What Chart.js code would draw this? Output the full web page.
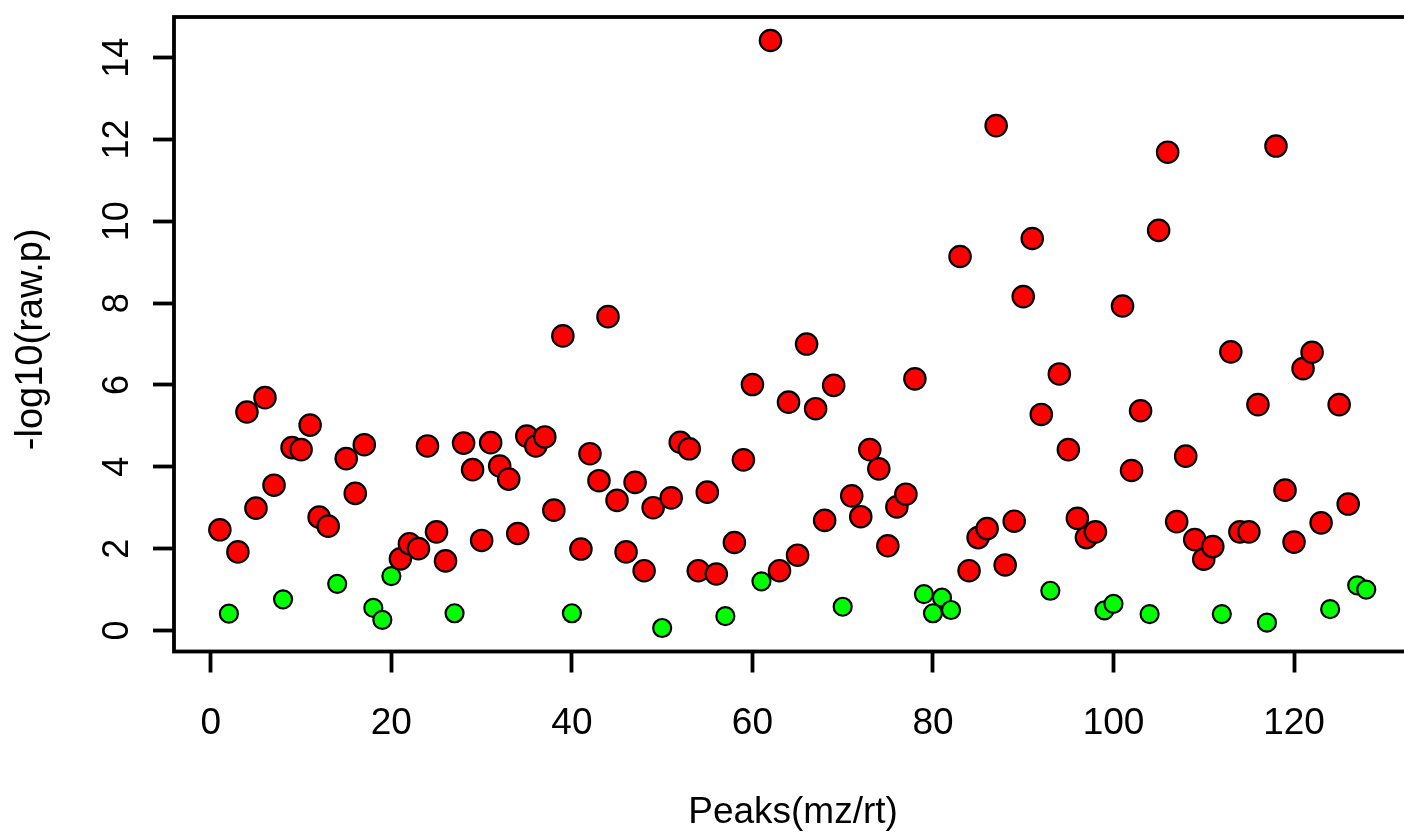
<!DOCTYPE html>
<html>
<head>
<meta charset="utf-8">
<script src="https://cdn.jsdelivr.net/npm/chart.js@4.4.1/dist/chart.umd.min.js"></script>
<style>
  html, body { margin: 0; padding: 0; background: #fff; overflow: hidden; }
  #wrap { position: absolute; left: 0; top: 0; width: 1404px; height: 832px; overflow: hidden; }
  canvas { display: block; }
</style>
</head>
<body>
<div id="wrap"><canvas id="chart" width="1425" height="832"></canvas></div>
<script>
// === Data ===
const pValues = [
  2.46, 0.41, 1.92, 5.34, 2.99, 5.69, 3.55, 0.76, 4.47, 4.42,
  5.02, 2.77, 2.55, 1.14, 4.20, 3.35, 4.54, 0.55, 0.26, 1.33,
  1.75, 2.12, 2.00, 4.51, 2.41, 1.70, 0.42, 4.58, 3.93, 2.20,
  4.59, 4.02, 3.70, 2.37, 4.75, 4.51, 4.73, 2.94, 7.20, 0.42,
  1.99, 4.32, 3.66, 7.67, 3.18, 1.92, 3.62, 1.46, 3.00, 0.06,
  3.24, 4.60, 4.44, 1.46, 3.38, 1.38, 0.35, 2.15, 4.17, 6.01,
  1.20, 14.42, 1.46, 5.58, 1.84, 7.00, 5.42, 2.69, 5.99, 0.58,
  3.29, 2.78, 4.42, 3.95, 2.07, 3.02, 3.33, 6.15, 0.89, 0.42,
  0.80, 0.50, 9.14, 1.46, 2.27, 2.49, 12.34, 1.60, 2.67, 8.16,
  9.58, 5.28, 0.97, 6.27, 4.42, 2.74, 2.27, 2.41, 0.49, 0.65,
  7.93, 3.91, 5.37, 0.40, 9.78, 11.69, 2.66, 4.26, 2.22, 1.74,
  2.05, 0.40, 6.81, 2.41, 2.41, 5.52, 0.19, 11.84, 3.43, 2.16,
  6.40, 6.80, 2.63, 0.52, 5.52, 3.09, 1.10, 1.00
];
// peaks that are not significant (drawn green)
const notSignificant = [2, 8, 14, 18, 19, 20, 27, 40, 50, 57, 61, 70, 79, 80, 81, 82,
  93, 99, 100, 104, 112, 117, 124, 127, 128];
const xTicks = [0, 20, 40, 60, 80, 100, 120];
const yTicks = [0, 2, 4, 6, 8, 10, 12, 14];
const xTitle = 'Peaks(mz/rt)';
const yTitle = '-log10(raw.p)';

const points = pValues.map((v, i) => ({ x: i + 1, y: v }));
const isSig = (i) => !notSignificant.includes(i + 1);

// R-style axis range: data range extended by 4% each side
function rRange(vals) {
  const lo = Math.min(...vals), hi = Math.max(...vals);
  const pad = (hi - lo) * 0.04;
  return [lo - pad, hi + pad];
}
const [xMin, xMax] = rRange(points.map(p => p.x));
const [yMin, yMax] = rRange(pValues);

const FONT = '"Liberation Sans", Arial, sans-serif';

// box around the plot region
const boxPlugin = {
  id: 'box',
  beforeDatasetsDraw(chart) {
    const { ctx, chartArea: a } = chart;
    ctx.save();
    ctx.strokeStyle = '#000';
    ctx.lineWidth = 3.8;
    ctx.strokeRect(a.left, a.top, a.right - a.left, a.bottom - a.top);
    ctx.restore();
  }
};

// y tick labels and title, parallel to the axis like R's default
const yTextPlugin = {
  id: 'yText',
  afterDraw(chart) {
    const { ctx, chartArea: a } = chart;
    const y = chart.scales.y;
    ctx.save();
    ctx.fillStyle = '#000';
    ctx.textAlign = 'center';
    ctx.textBaseline = 'alphabetic';
    ctx.font = '36px ' + FONT;
    yTicks.forEach(v => {
      ctx.save();
      ctx.translate(128, y.getPixelForValue(v));
      ctx.rotate(-Math.PI / 2);
      ctx.fillText(String(v), 0, 0);
      ctx.restore();
    });
    ctx.font = '38px ' + FONT;
    ctx.textBaseline = 'middle';
    ctx.translate(32, (a.top + a.bottom) / 2 + 5);
    ctx.rotate(-Math.PI / 2);
    ctx.fillText(yTitle, 0, 0);
    ctx.restore();
  }
};

new Chart(document.getElementById('chart'), {
  type: 'scatter',
  data: {
    datasets: [{
      data: points,
      pointBackgroundColor: ctx => isSig(ctx.dataIndex) ? '#FF0000' : '#00FF00',
      pointBorderColor: '#000',
      pointBorderWidth: 2.2,
      pointRadius: ctx => isSig(ctx.dataIndex) ? 10.7 : 9,
      pointHoverRadius: ctx => isSig(ctx.dataIndex) ? 10.7 : 9
    }]
  },
  options: {
    responsive: false,
    devicePixelRatio: 1,
    animation: false,
    layout: { padding: { left: 0, top: 17, right: 2, bottom: 0 } },
    plugins: { legend: { display: false }, tooltip: { enabled: false } },
    scales: {
      x: {
        type: 'linear',
        min: xMin,
        max: xMax,
        afterBuildTicks: s => { s.ticks = xTicks.map(v => ({ value: v })); },
        afterFit: s => { s.height = 180.5; },
        grid: { drawOnChartArea: false, drawTicks: true, tickLength: 21, tickWidth: 3.8, tickColor: '#000' },
        border: { display: false },
        ticks: { color: '#000', font: { family: FONT, size: 37 }, padding: 29, maxRotation: 0 },
        title: { display: true, text: xTitle, color: '#000',
                 font: { family: FONT, size: 37, lineHeight: 1 }, padding: { top: 0, bottom: 1 } }
      },
      y: {
        type: 'linear',
        min: yMin,
        max: yMax,
        afterBuildTicks: s => { s.ticks = yTicks.map(v => ({ value: v })); },
        afterFit: s => { s.width = 174; },
        grid: { drawOnChartArea: false, drawTicks: true, tickLength: 21, tickWidth: 3.8, tickColor: '#000' },
        border: { display: false },
        ticks: { display: false }
      }
    }
  },
  plugins: [boxPlugin, yTextPlugin]
});
</script>
</body>
</html>
